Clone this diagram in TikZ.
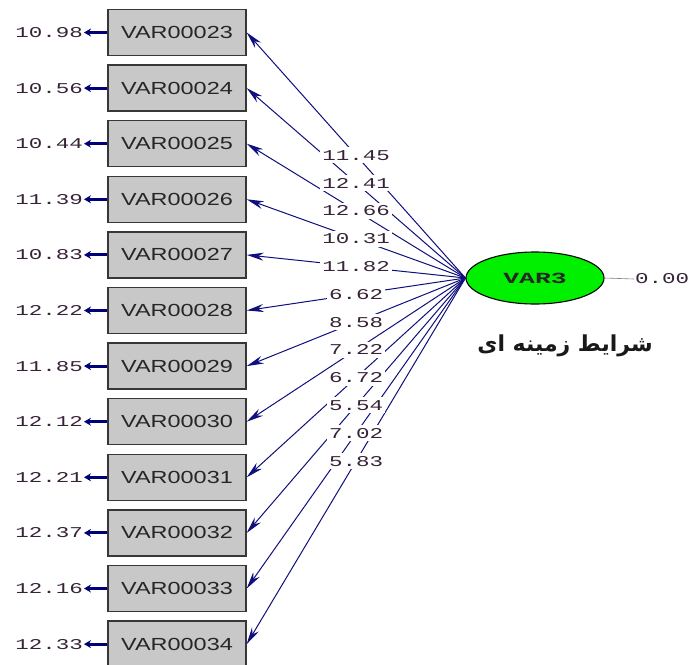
\documentclass[tikz,border=0pt]{standalone}
\usepackage{fontspec}
\usetikzlibrary{arrows.meta,shapes.geometric}
\TeXXeTstate=1
\newfontfamily\numfont{Liberation Mono}[FakeStretch=1.5]
\newfontfamily\varfont{Liberation Mono}[FakeStretch=1.7]
\newfontfamily\boxfont{Liberation Sans}[FakeStretch=1.34]
\newfontfamily\arabicfont[Script=Arabic]{DejaVu Sans}
\definecolor{pathblue}{RGB}{15,15,125}
\definecolor{arrowblue}{RGB}{0,0,120}
\definecolor{boxgray}{RGB}{200,200,200}
\definecolor{boxedge}{RGB}{55,55,55}
\definecolor{numtext}{RGB}{55,35,55}
\definecolor{latgreen}{RGB}{0,240,0}
\tikzset{
  obs/.style={draw=boxedge, line width=1.4pt, fill=boxgray, minimum width=138pt,
    minimum height=46pt, inner sep=0pt, font=\boxfont\fontsize{17.5}{17.5}\selectfont,
    text=black!85},
  lat/.style={ellipse, draw=black, line width=1.1pt, fill=latgreen, minimum width=138pt,
    minimum height=52pt, inner sep=0pt, font=\varfont\bfseries\fontsize{15.5}{15.5}\selectfont,
    text=black!85},
  loading/.style={draw=pathblue, line width=1pt, -{Stealth[length=17pt,width=8pt]}},
  errarrow/.style={draw=arrowblue, line width=3pt, -{Stealth[length=7pt,width=8pt]}},
  coef/.style={fill=white, inner xsep=2pt, inner ysep=3pt, text=numtext,
    font=\numfont\fontsize{15}{15}\selectfont},
  errnum/.style={anchor=east, inner sep=1pt, text=numtext,
    font=\numfont\fontsize{15}{15}\selectfont}
}
\begin{document}
\begin{tikzpicture}[x=1pt,y=-1pt]
\useasboundingbox (0,0) rectangle (692,664);
\clip (0,0) rectangle (692,664);

% latent variable
\node[lat] (lv) at (535,278) {VAR3};
\coordinate (src) at (lv.west);

% observed variables
\foreach \i/\n in {0/23,1/24,2/25,3/26,4/27,5/28,6/29,7/30,8/31,9/32,10/33,11/34}{
  \node[obs] (b\i) at (177,{32.5+55.6*\i}) {VAR000\n};
}

% loadings
\foreach \i in {0,...,11}{
  \draw[loading] (src) -- (b\i.east);
}
\foreach \i/\v in {0/11.45,1/12.41,2/12.66,3/10.31,4/11.82,5/6.62,6/8.58,7/7.22,8/6.72,9/5.54,10/7.02,11/5.83}{
  \path (src) -- (b\i.east) node[coef, pos=0.5] (c\i) {\v};
}

% error variances
\foreach \i/\v in {0/10.98,1/10.56,2/10.44,3/11.39,4/10.83,5/12.22,6/11.85,7/12.12,8/12.21,9/12.37,10/12.16,11/12.33}{
  \node[errnum] (e\i) at (84,{32.5+55.6*\i}) {\v};
  \draw[errarrow] (b\i.west) -- (e\i.east);
}

% latent variance
\node[coef, anchor=west, inner sep=1pt] (lvv) at (634,279) {0.00};
\draw[gray, line width=0.6pt] (lv.east) -- (lvv.west);

% latent label
\node[font=\arabicfont\bfseries\fontsize{22}{22}\selectfont, text=black!90] (lab) at (565,346)
  {\beginR شرایط زمینه ای\endR};
\end{tikzpicture}
\end{document}
